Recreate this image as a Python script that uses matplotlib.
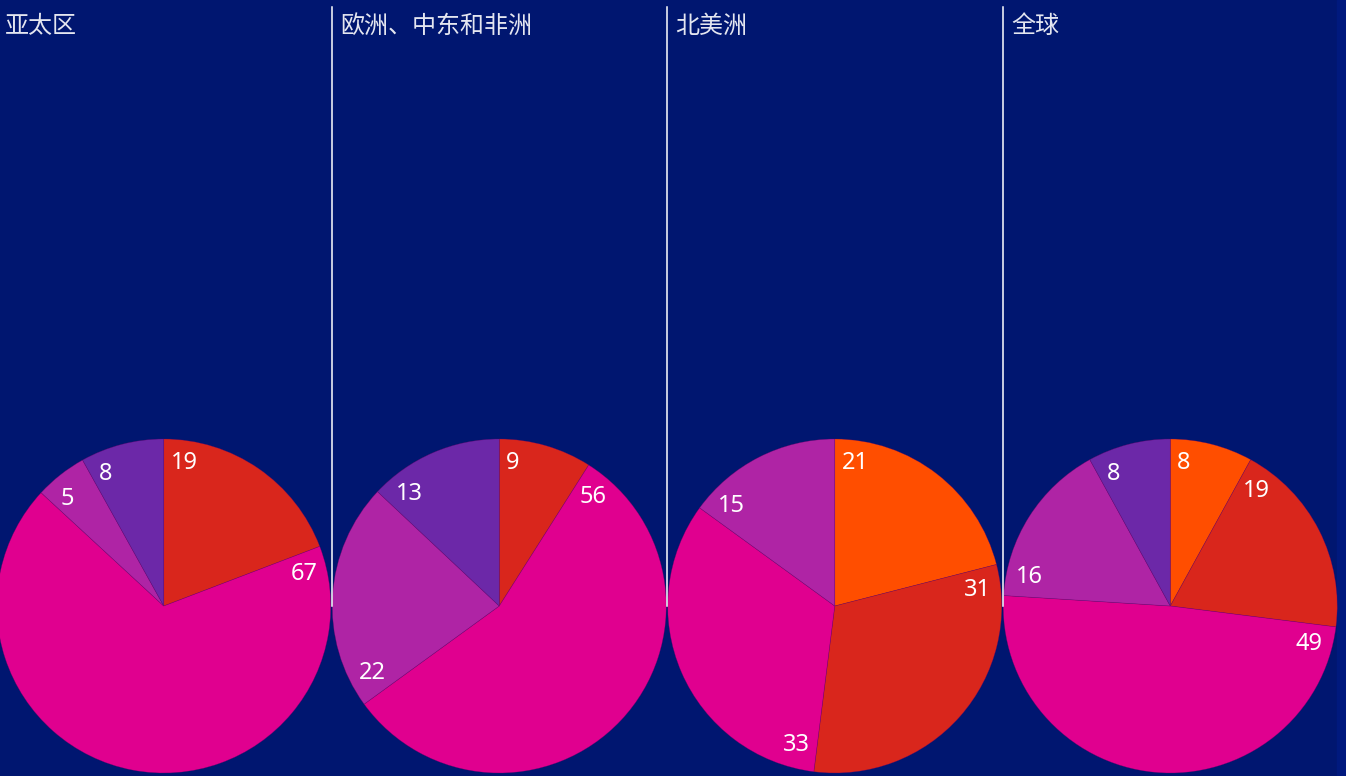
import numpy as np
import matplotlib
matplotlib.use("Agg")
import matplotlib.pyplot as plt
from matplotlib.patches import Rectangle

plt.rcParams['font.family'] = ['Noto Sans CJK SC', 'DejaVu Sans']

# regions and share per segment (orange, red, magenta, violet, purple)
regions = ["亚太区", "欧洲、中东和非洲", "北美洲", "全球"]
seg_colors = ["#FF4E00", "#D9261C", "#E0008F", "#AF24A5", "#6C28A8"]
apac = [0, 19, 67, 5, 8]
emea = [0, 9, 56, 22, 13]
north_america = [21, 31, 33, 15, 0]
worldwide = [8, 19, 49, 16, 8]
region_values = [apac, emea, north_america, worldwide]

W, H = 1346, 776
bg = "#001670"

fig = plt.figure(figsize=(W / 100, H / 100), dpi=100, facecolor=bg)
ax = fig.add_axes([0, 0, 1, 1])
ax.set_facecolor(bg)

col_left = -4
col_w = 335.5
pie_y = 170
radius = 167
label_r = 144

for i, (name, vals) in enumerate(zip(regions, region_values)):
    left = col_left + col_w * i
    cx = left + col_w / 2
    vals_nz = [v for v in vals if v > 0]
    cols_nz = [c for v, c in zip(vals, seg_colors) if v > 0]

    ax.pie(vals_nz, colors=cols_nz, startangle=90, counterclock=False,
           center=(cx, pie_y), radius=radius,
           wedgeprops=dict(linewidth=0.4, edgecolor=(0.45, 0.0, 0.4, 0.5)))

    # value labels sit just clockwise of each slice's leading edge
    total = sum(vals_nz)
    start = 0.0
    for v in vals_nz:
        txt = str(v)
        w = 13.5 * len(txt)
        a = 2 * np.pi * start / total + (w / 2 + 7) / label_r
        ax.text(cx + label_r * np.sin(a), pie_y + label_r * np.cos(a), txt,
                ha="center", va="center", color="white", fontsize=17,
                family=["Noto Sans", "DejaVu Sans"])
        start += v

    ax.text(left + 8.5, H - 26, name, ha="left", va="center",
            color="#E4E6F0", fontsize=17.3)

    if i > 0:
        ax.plot([left, left], [pie_y, H - 7], color="white", lw=1.1)

# narrow strip along the right edge
ax.add_patch(Rectangle((1337, 0), W - 1337, H, color="#00197E", zorder=0))

ax.set_xlim(0, W)
ax.set_ylim(0, H)
ax.set_aspect("auto")
ax.axis("off")

fig.savefig("out.png", dpi=100, facecolor=bg)
